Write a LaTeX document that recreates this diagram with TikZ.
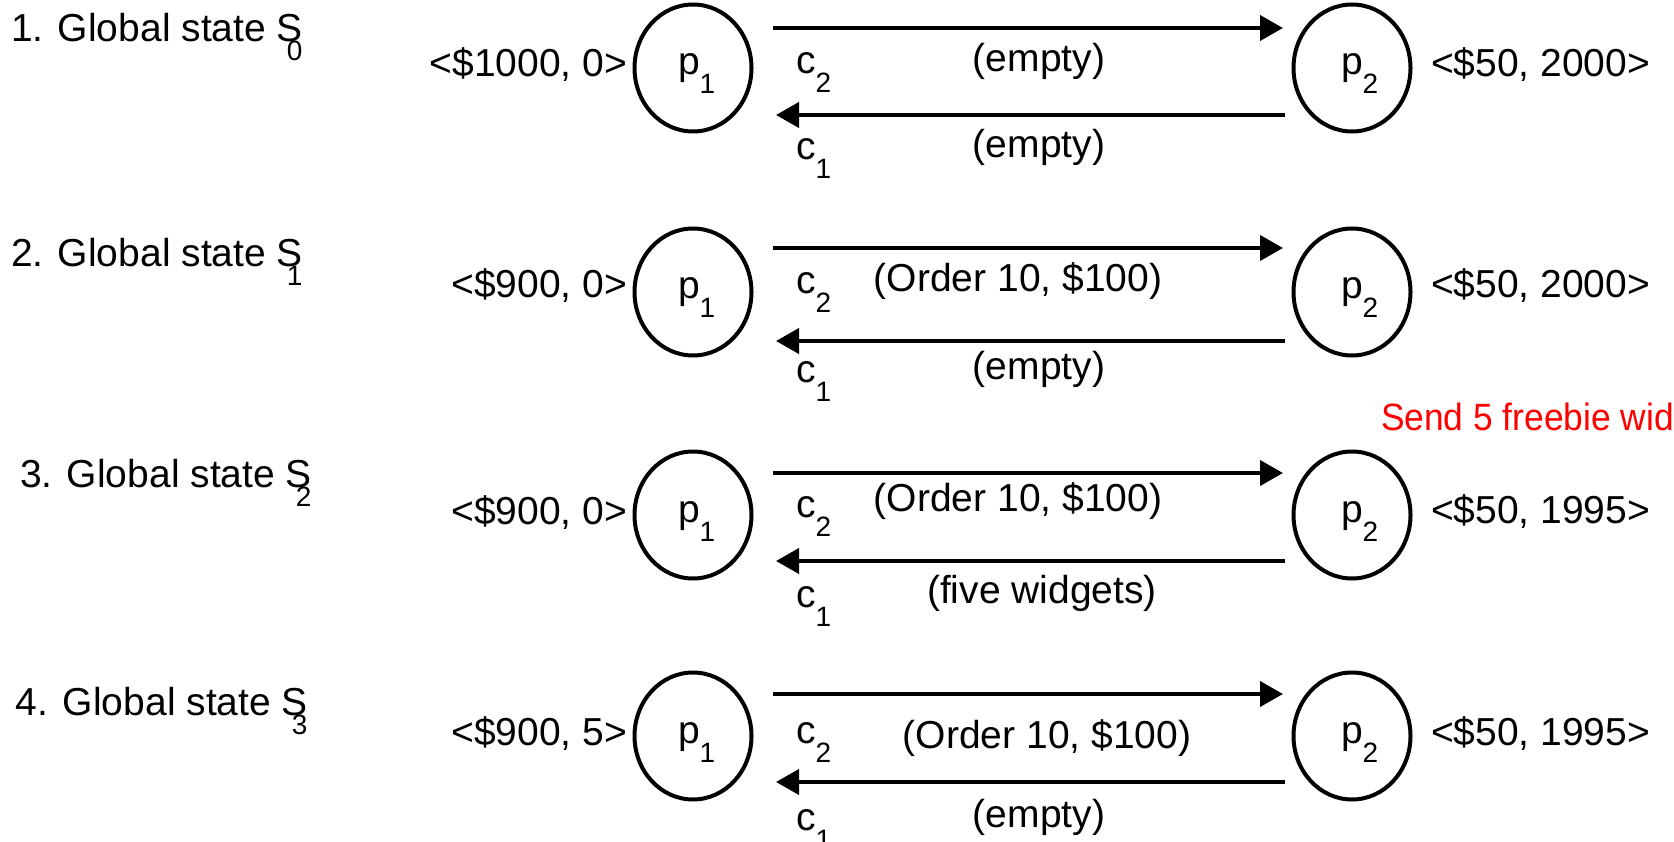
\documentclass[tikz,border=0pt]{standalone}
\usepackage{fontspec}
\setmainfont{Liberation Sans}
\usetikzlibrary{arrows.meta,shapes.geometric}
\newcommand\subtx[1]{\raisebox{-19pt}{\fontsize{28}{30}\selectfont #1}}
\begin{document}
\begin{tikzpicture}[x=1pt,y=-1pt,
  txt/.style={inner sep=0pt, outer sep=0pt, font=\fontsize{39}{47}\selectfont},
  proc/.style={draw, ellipse, line width=4pt, minimum width=117pt, minimum height=127pt, inner sep=0pt},
  chan/.style={line width=4pt, -{Triangle[length=23pt,width=25pt]}},
  note/.style={inner sep=0pt, outer sep=0pt, font=\fontsize{38}{46}\selectfont, text=red}]
\clip (0,0) rectangle (1674,842);
% ---------- Row 1 ----------
\node[txt, anchor=base west] (t1) at (11,42) {1. Global state S\kern-16pt\subtx{0}};
\node[proc] (p1a) at (693,68) {};
\node[proc] (p2a) at (1352,68) {};
\node[txt, anchor=base west] (l1a) at (678,75) {p\subtx{1}};
\node[txt, anchor=base west] (l2a) at (1341,75) {p\subtx{2}};
\node[txt, anchor=base east] (v1a) at (627,77) {<\$1000, 0>};
\node[txt, anchor=base west] (v2a) at (1431,77) {<\$50, 2000>};
\coordinate (s1a) at (773,28); \coordinate (e1a) at (1283,28);
\coordinate (s2a) at (1285,115); \coordinate (e2a) at (776,115);
\draw[chan] (s1a) -- (e1a);
\draw[chan] (s2a) -- (e2a);
\node[txt, anchor=base west] (c2a) at (796,74) {c\subtx{2}};
\node[txt, anchor=base west] (c1a) at (796,160) {c\subtx{1}};
\node[txt, anchor=base] (m1a) at (1039,72) {(empty)};
\node[txt, anchor=base] (m2a) at (1039,158) {(empty)};
% ---------- Row 2 ----------
\node[txt, anchor=base west] (t2) at (11,267) {2. Global state S\kern-16pt\subtx{1}};
\node[proc] (p1b) at (693,292) {};
\node[proc] (p2b) at (1352,292) {};
\node[txt, anchor=base west] (l1b) at (678,299) {p\subtx{1}};
\node[txt, anchor=base west] (l2b) at (1341,299) {p\subtx{2}};
\node[txt, anchor=base east] (v1b) at (627,298) {<\$900, 0>};
\node[txt, anchor=base west] (v2b) at (1431,298) {<\$50, 2000>};
\coordinate (s1b) at (773,248); \coordinate (e1b) at (1283,248);
\coordinate (s2b) at (1285,341); \coordinate (e2b) at (776,341);
\draw[chan] (s1b) -- (e1b);
\draw[chan] (s2b) -- (e2b);
\node[txt, anchor=base west] (c2b) at (796,294) {c\subtx{2}};
\node[txt, anchor=base west] (c1b) at (796,382) {c\subtx{1}};
\node[txt, anchor=base] (m1b) at (1018,292) {(Order 10, \$100)};
\node[txt, anchor=base] (m2b) at (1039,380) {(empty)};
% ---------- Row 3 ----------
\node[note, anchor=base west] (red) at (1381,430) {\scalebox{0.93}[1]{Send 5 freebie widgets}};
\node[txt, anchor=base west] (t3) at (20,487) {3. Global state S\kern-16pt\subtx{2}};
\node[proc] (p1c) at (693,515) {};
\node[proc] (p2c) at (1352,515) {};
\node[txt, anchor=base west] (l1c) at (678,522) {p\subtx{1}};
\node[txt, anchor=base west] (l2c) at (1341,522) {p\subtx{2}};
\node[txt, anchor=base east] (v1c) at (627,524) {<\$900, 0>};
\node[txt, anchor=base west] (v2c) at (1431,523) {<\$50, 1995>};
\coordinate (s1c) at (773,473); \coordinate (e1c) at (1283,473);
\coordinate (s2c) at (1285,561); \coordinate (e2c) at (776,561);
\draw[chan] (s1c) -- (e1c);
\draw[chan] (s2c) -- (e2c);
\node[txt, anchor=base west] (c2c) at (796,517) {c\subtx{2}};
\node[txt, anchor=base west] (c1c) at (796,607) {c\subtx{1}};
\node[txt, anchor=base] (m1c) at (1018,511) {(Order 10, \$100)};
\node[txt, anchor=base] (m2c) at (1042,603) {(five widgets)};
% ---------- Row 4 ----------
\node[txt, anchor=base west] (t4) at (16,715) {4. Global state S\kern-16pt\subtx{3}};
\node[proc] (p1d) at (693,736) {};
\node[proc] (p2d) at (1352,736) {};
\node[txt, anchor=base west] (l1d) at (678,743) {p\subtx{1}};
\node[txt, anchor=base west] (l2d) at (1341,743) {p\subtx{2}};
\node[txt, anchor=base east] (v1d) at (627,745) {<\$900, 5>};
\node[txt, anchor=base west] (v2d) at (1431,745) {<\$50, 1995>};
\coordinate (s1d) at (773,694); \coordinate (e1d) at (1283,694);
\coordinate (s2d) at (1285,782); \coordinate (e2d) at (776,782);
\draw[chan] (s1d) -- (e1d);
\draw[chan] (s2d) -- (e2d);
\node[txt, anchor=base west] (c2d) at (796,743) {c\subtx{2}};
\node[txt, anchor=base west] (c1d) at (796,830) {c\subtx{1}};
\node[txt, anchor=base] (m1d) at (1047,748) {(Order 10, \$100)};
\node[txt, anchor=base] (m2d) at (1039,827) {(empty)};
\end{tikzpicture}
\end{document}
